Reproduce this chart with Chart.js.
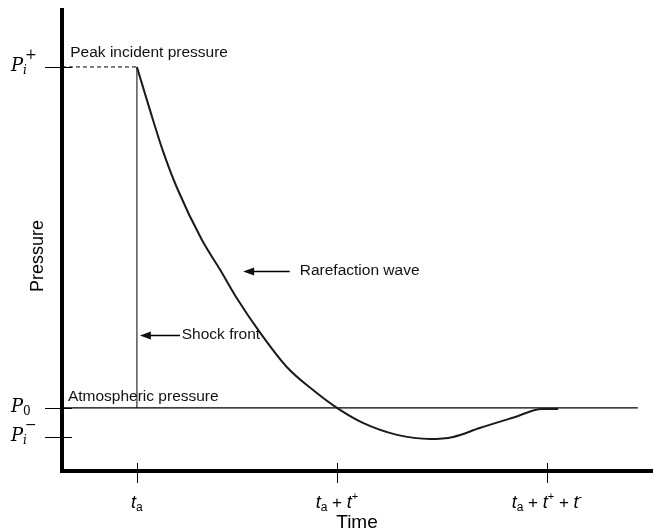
<!DOCTYPE html>
<html>
<head>
<meta charset="utf-8">
<script src="https://cdn.jsdelivr.net/npm/chart.js@4.4.0/dist/chart.umd.min.js"></script>
<style>
  html, body { margin: 0; padding: 0; background: #fff; }
  #wrap { width: 654px; height: 532px; }
</style>
</head>
<body>
<div id="wrap"><canvas id="blastChart"></canvas></div>
<script>
// time in arbitrary units (0..100), pressure normalised so that P0 = 0 and Pi+ = 1
const timeRange = [0, 100];
const pressureRange = [-0.185, 1.167];

const xTickValues = [12.7, 46.6, 82.2];
const xTickLabels = ['t_a', 't_a + t^+', 't_a + t^+ + t^-'];
const yTickValues = [1.0, 0, -0.085];
const yTickLabels = ['P_i^+', 'P_0', 'P_i^-'];

// pressure decay after the shock front
const curveTime = [12.7, 14.9, 17.1, 19.5, 23.7, 26.8, 29.8, 33.6, 38.1, 42.5, 46.6, 51.0, 56.8, 62.4, 66.3, 70.8, 76.4, 81.4, 84.1];
const curvePressure = [1.0, 0.874, 0.754, 0.645, 0.493, 0.405, 0.317, 0.220, 0.120, 0.053, 0.0, -0.044, -0.079, -0.091, -0.085, -0.059, -0.029, -0.003, -0.003];

const shockTime = [12.7, 12.7];
const shockPressure = [0, 1.0];
const peakTime = [0, 12.7];
const peakPressure = [1.0, 1.0];
const ambientTime = [0, 97.6];
const ambientPressure = [0, 0];

// text notes (t, p = middle of the text line), arrows point left
const notes = [
  { text: 'Peak incident pressure', t: 1.4, p: 1.041 },
  { text: 'Atmospheric pressure', t: 1.0, p: 0.032 },
  { text: 'Rarefaction wave', t: 40.3, p: 0.402, arrowFrom: 38.6, arrowTo: 30.7 },
  { text: 'Shock front', t: 20.3, p: 0.215, arrowFrom: 20.0, arrowTo: 13.2 }
];

const SANS = '"Liberation Sans", Arial, sans-serif';
const SERIF = '"DejaVu Serif", "Liberation Serif", serif';

function toPoints(xs, ys) {
  return xs.map((x, i) => ({ x: x, y: ys[i] }));
}

// split 'P_i^+' into pieces: base / sub / sup
function parseLabel(label) {
  const parts = [];
  for (let i = 0; i < label.length; i++) {
    const c = label[i];
    if (c === '_') parts.push({ s: label[++i], kind: 'sub' });
    else if (c === '^') parts.push({ s: label[++i], kind: 'sup' });
    else parts.push({ s: c, kind: 'base' });
  }
  return parts;
}

// lays out pieces, returns offsets and total width
function layoutLabel(ctx, parts, fontFor) {
  let x = 0, subStart = null, subEnd = 0;
  const out = [];
  parts.forEach((p, i) => {
    const f = fontFor(p);
    ctx.font = f.font;
    const w = ctx.measureText(f.text).width;
    let px = x;
    if (p.kind === 'sup' && i > 0 && parts[i - 1].kind === 'sub') {
      px = subStart + 2;
      x = Math.max(subEnd, px + w);
    } else {
      if (p.kind === 'sub') subStart = x;
      x += w;
      if (p.kind === 'sub') subEnd = x;
    }
    out.push({ x: px, dy: f.dy, font: f.font, text: f.text });
  });
  return { pieces: out, width: x };
}

function xFont(p) {
  if (p.kind === 'sub') return { font: '12px ' + SANS, dy: 3, text: p.s };
  if (p.kind === 'sup') return { font: '11px ' + SANS, dy: -8, text: p.s };
  if (p.s === 't') return { font: 'italic 18px ' + SANS, dy: 0, text: p.s };
  return { font: '17px ' + SANS, dy: 0, text: p.s };
}

function yFont(p) {
  if (p.kind === 'sub') return { font: (p.s === 'i' ? 'italic ' : '') + '12px ' + SERIF, dy: 3, text: p.s };
  if (p.kind === 'sup') return { font: '14px ' + SERIF, dy: -12, text: p.s === '-' ? '\u2212' : p.s };
  return { font: 'italic 18px ' + SERIF, dy: 0, text: p.s };
}

const sketchPlugin = {
  id: 'sketch',
  afterDraw(chart) {
    const ctx = chart.ctx;
    const xs = chart.scales.x;
    const ys = chart.scales.y;
    ctx.save();
    ctx.strokeStyle = '#000';
    ctx.fillStyle = '#000';
    ctx.lineWidth = 1;

    // tick marks that cross the axes
    xTickValues.forEach(v => {
      const px = Math.round(xs.getPixelForValue(v)) + 0.5;
      ctx.beginPath();
      ctx.moveTo(px, ys.bottom - 8);
      ctx.lineTo(px, ys.bottom + 12);
      ctx.stroke();
    });
    yTickValues.forEach(v => {
      const py = Math.round(ys.getPixelForValue(v)) + 0.5;
      ctx.beginPath();
      ctx.moveTo(xs.left - 17, py);
      ctx.lineTo(xs.left + 10, py);
      ctx.stroke();
    });

    // tick labels with sub/superscripts
    ctx.textBaseline = 'alphabetic';
    ctx.textAlign = 'left';
    xTickValues.forEach((v, i) => {
      const lay = layoutLabel(ctx, parseLabel(xTickLabels[i]), xFont);
      const x0 = xs.getPixelForValue(v) - lay.width / 2;
      const base = ys.bottom + 37;
      lay.pieces.forEach(pc => {
        ctx.font = pc.font;
        ctx.fillText(pc.text, x0 + pc.x, base + pc.dy);
      });
    });
    yTickValues.forEach((v, i) => {
      const lay = layoutLabel(ctx, parseLabel(yTickLabels[i]), yFont);
      const x0 = 11;
      const base = ys.getPixelForValue(v) + 4;
      lay.pieces.forEach(pc => {
        ctx.font = pc.font;
        ctx.fillText(pc.text, x0 + pc.x, base + pc.dy);
      });
    });

    // vertical axis title, sits a bit below the middle in the original
    ctx.save();
    ctx.translate(38, 256);
    ctx.rotate(-Math.PI / 2);
    ctx.textAlign = 'center';
    ctx.textBaseline = 'middle';
    ctx.font = '18px ' + SANS;
    ctx.fillText('Pressure', 0, 0);
    ctx.restore();

    // notes and arrows
    ctx.font = '15.5px ' + SANS;
    ctx.textBaseline = 'middle';
    ctx.textAlign = 'left';
    notes.forEach(n => {
      const py = ys.getPixelForValue(n.p);
      ctx.fillStyle = '#111';
      ctx.fillText(n.text, xs.getPixelForValue(n.t), py);
      if (n.arrowFrom !== undefined) {
        const a = xs.getPixelForValue(n.arrowFrom);
        const b = xs.getPixelForValue(n.arrowTo);
        const y = Math.round(py) + 0.5;
        ctx.lineWidth = 1.3;
        ctx.beginPath();
        ctx.moveTo(a, y);
        ctx.lineTo(b + 8, y);
        ctx.stroke();
        ctx.beginPath();
        ctx.moveTo(b, y);
        ctx.lineTo(b + 11, y - 4);
        ctx.lineTo(b + 11, y + 4);
        ctx.closePath();
        ctx.fill();
      }
    });
    ctx.restore();
  }
};

new Chart(document.getElementById('blastChart'), {
  type: 'scatter',
  data: {
    datasets: [
      {
        label: 'Pressure',
        data: toPoints(curveTime, curvePressure),
        showLine: true,
        borderColor: '#1a1a1a',
        borderWidth: 2,
        pointRadius: 0,
        cubicInterpolationMode: 'monotone'
      },
      {
        label: 'Shock front',
        data: toPoints(shockTime, shockPressure),
        showLine: true,
        borderColor: '#000',
        borderWidth: 1,
        pointRadius: 0
      },
      {
        label: 'Peak',
        data: toPoints(peakTime, peakPressure),
        showLine: true,
        borderColor: '#000',
        borderWidth: 1,
        borderDash: [4, 3],
        pointRadius: 0
      },
      {
        label: 'Atmospheric',
        data: toPoints(ambientTime, ambientPressure),
        showLine: true,
        borderColor: '#000',
        borderWidth: 1.3,
        pointRadius: 0
      }
    ]
  },
  options: {
    responsive: true,
    maintainAspectRatio: false,
    animation: false,
    layout: { padding: { top: 10, right: 2, left: 0, bottom: 0 } },
    plugins: {
      legend: { display: false },
      tooltip: { enabled: false }
    },
    scales: {
      x: {
        type: 'linear',
        min: timeRange[0],
        max: timeRange[1],
        grid: { display: false },
        border: { display: true, width: 4, color: '#000' },
        ticks: { display: false },
        title: {
          display: true,
          text: 'Time',
          color: '#000',
          padding: 0,
          font: { family: SANS, size: 19, lineHeight: 1 }
        },
        afterFit: function (scale) { scale.height = 61; }
      },
      y: {
        type: 'linear',
        min: pressureRange[0],
        max: pressureRange[1],
        grid: { display: false },
        border: { display: true, width: 4, color: '#000' },
        ticks: { display: false },
        title: { display: false },
        afterFit: function (scale) { scale.width = 62; }
      }
    }
  },
  plugins: [sketchPlugin]
});
</script>
</body>
</html>
